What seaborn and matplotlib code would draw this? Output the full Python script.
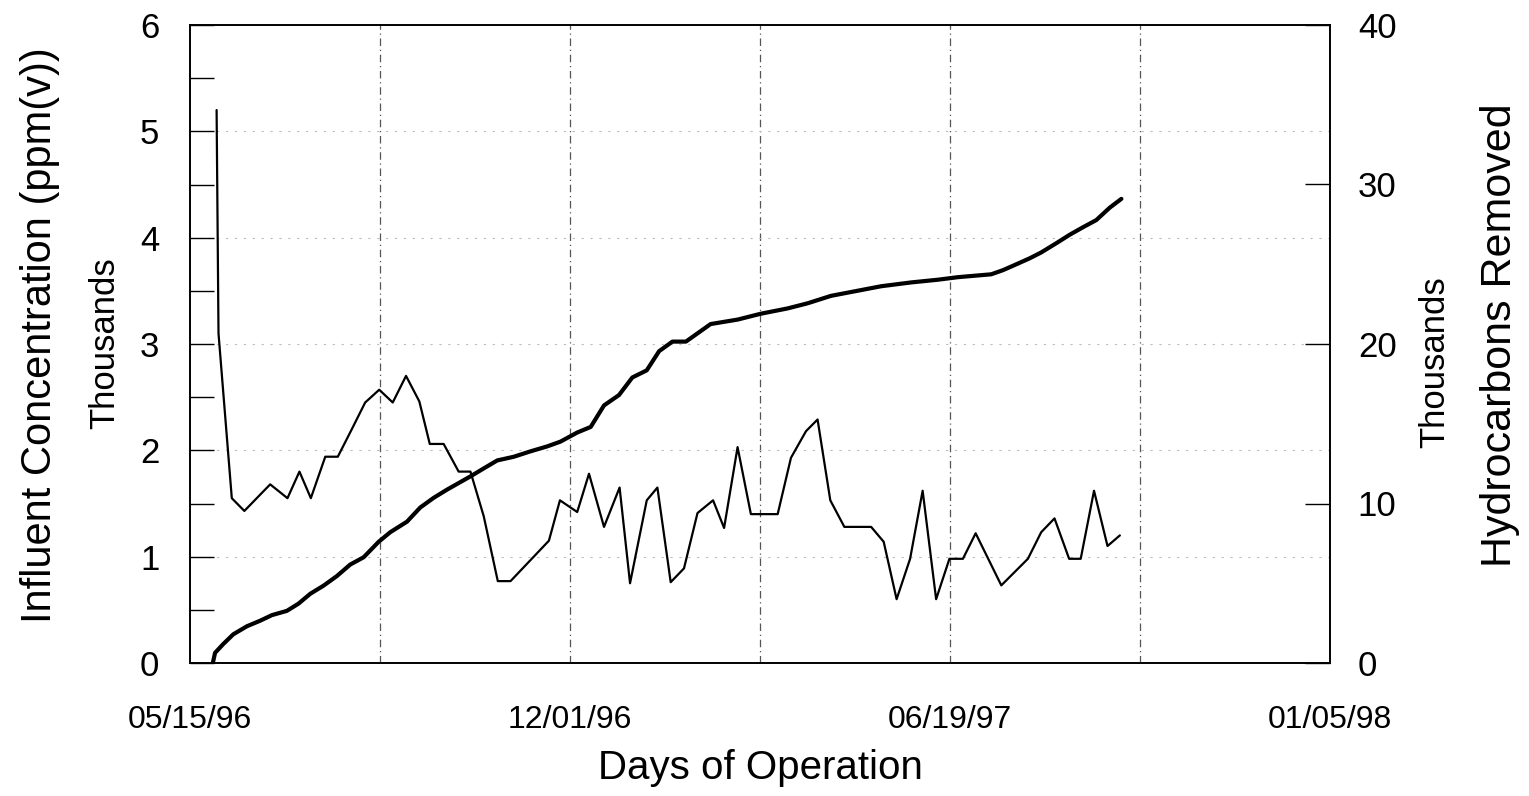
import matplotlib
matplotlib.use("Agg")
import matplotlib.pyplot as plt
import seaborn as sns
import numpy as np
import pandas as pd

# ---- data (days since 05/15/96, values in thousands) ----
conc_days = [14, 15, 22, 28.6, 42.2, 51.3, 57.6, 63.6, 71.2, 77.8, 85.2, 92.2, 99.6, 106.7,
             113.7, 120.7, 126.2, 133.5, 141.4, 147.6, 154.6, 162, 168.7, 188.9, 194.7,
             203.8, 210, 217.9, 226.1, 231.6, 240.4, 246, 253, 260, 267.1, 275.3, 281.1,
             288.2, 295.2, 309.3, 316.3, 324.2, 330.3, 337, 344.4, 358.5, 365.1, 371.9,
             379, 385.6, 392.7, 399.7, 406.8, 413.5, 427, 441, 448, 455, 462.7, 468.8,
             475.8, 482.9, 489.4]
conc_vals = [5.2, 3.1, 1.55, 1.43, 1.68, 1.55, 1.8, 1.55, 1.94, 1.94, 2.2, 2.45, 2.57, 2.45,
             2.7, 2.46, 2.06, 2.06, 1.8, 1.8, 1.38, 0.77, 0.77, 1.15, 1.53,
             1.42, 1.78, 1.28, 1.65, 0.75, 1.53, 1.65, 0.76, 0.89, 1.41, 1.53, 1.27,
             2.03, 1.4, 1.4, 1.93, 2.18, 2.29, 1.53, 1.28, 1.28, 1.14, 0.6,
             0.98, 1.62, 0.6, 0.98, 0.98, 1.22, 0.73, 0.98, 1.23, 1.36, 0.98, 0.98,
             1.62, 1.1, 1.2]

hc_days = [12, 13.2, 17.6, 22.8, 29.9, 36.9, 43.1, 51, 57.1, 63.3, 70.3, 77.3, 84.3, 91.4,
           99.3, 105.4, 114.2, 121.2, 128.3, 135.3, 147.6, 154.6, 161.7, 170.4, 179.2,
           188, 195, 203.8, 210.9, 217.9, 225.8, 232.8, 240.4, 246.9, 253.9, 261, 274,
           288.2, 300.5, 314.5, 325, 337.4, 349.7, 363.7, 379.5, 393.6, 404.2, 421.7,
           427.9, 434, 441.9, 448, 456.1, 463, 470, 477, 484.1, 490.2]
hc_vals = [0, 0.64, 1.2, 1.8, 2.3, 2.65, 3.0, 3.27, 3.72, 4.34, 4.85, 5.45, 6.17, 6.63,
           7.6, 8.2, 8.86, 9.75, 10.36, 10.87, 11.7, 12.2, 12.7, 12.93, 13.27,
           13.58, 13.88, 14.45, 14.8, 16.15, 16.8, 17.9, 18.35, 19.55, 20.15, 20.15, 21.25,
           21.53, 21.9, 22.23, 22.55, 23.02, 23.3, 23.62, 23.86, 24.03, 24.19, 24.37,
           24.63, 24.95, 25.37, 25.74, 26.33, 26.85, 27.32, 27.77, 28.55, 29.1]

x_tick_days = [0, 200, 400, 600]
x_tick_labels = ["05/15/96", "12/01/96", "06/19/97", "01/05/98"]
left_ticks = [0, 1, 2, 3, 4, 5, 6]
right_ticks = [0, 10, 20, 30, 40]

conc_df = pd.DataFrame({"day": conc_days, "val": conc_vals})
hc_df = pd.DataFrame({"day": hc_days, "val": hc_vals})

sns.set_style("white")
plt.rcParams["font.family"] = ["Liberation Sans", "DejaVu Sans"]
plt.rcParams.update({"text.color": "black", "axes.labelcolor": "black",
                     "xtick.color": "black", "ytick.color": "black"})

fig = plt.figure(figsize=(15.29, 7.96), dpi=100)
ax = fig.add_axes([190/1529, 1-663/796, 1140/1529, 638/796])
ax2 = ax.twinx()

sns.lineplot(data=conc_df, x="day", y="val", ax=ax, color="black", lw=1.6, sort=False)
sns.lineplot(data=hc_df, x="day", y="val", ax=ax2, color="black", lw=3.0, sort=False)

ax.set_xlim(0, 600)
ax.set_ylim(0, 6)
ax2.set_ylim(0, 40)

# gridlines
for d in range(100, 600, 100):
    ax.axvline(d, color="#555555", lw=0.9, ls=(0, (6, 3, 1, 3)), zorder=0)
for v in range(1, 6):
    ax.axhline(v, color="#bbbbbb", lw=0.8, ls=(0, (2, 6)), zorder=0)

ax.set_xticks(x_tick_days)
ax.set_xticklabels(x_tick_labels)
ax.set_xticks(range(100, 600, 200), minor=True)
ax.set_yticks(left_ticks)
ax.set_yticks(np.arange(0.5, 6, 1.0), minor=True)
ax2.set_yticks(right_ticks)

ax.tick_params(axis="y", which="both", direction="in", length=17, width=1.0,
               labelsize=25, pad=22, color="black", labelcolor="black")
ax.tick_params(axis="x", which="both", direction="in", length=11, width=1.0,
               labelsize=23, pad=30, color="black", labelcolor="black")
ax2.tick_params(axis="y", direction="in", length=18, width=1.0, labelsize=25, pad=20,
                color="black", labelcolor="black")

for a in (ax, ax2):
    for s in a.spines.values():
        s.set_color("black")
        s.set_linewidth(1.2)

ax.set_xlabel("Days of Operation", fontsize=29, labelpad=10)
ax.set_ylabel("")
ax2.set_ylabel("")

fig.text(40/1529, 1-335/796, "Influent Concentration (ppm(v))", rotation=90,
         ha="center", va="center", fontsize=30)
fig.text(105/1529, 1-343/796, "Thousands", rotation=90, ha="center", va="center",
         fontsize=25)
fig.text(1435/1529, 1-362/796, "Thousands", rotation=90, ha="center", va="center",
         fontsize=25)
fig.text(1500/1529, 1-335/796, "Hydrocarbons Removed", rotation=90, ha="center",
         va="center", fontsize=31)

fig.savefig("out.png", dpi=100, facecolor="white")
